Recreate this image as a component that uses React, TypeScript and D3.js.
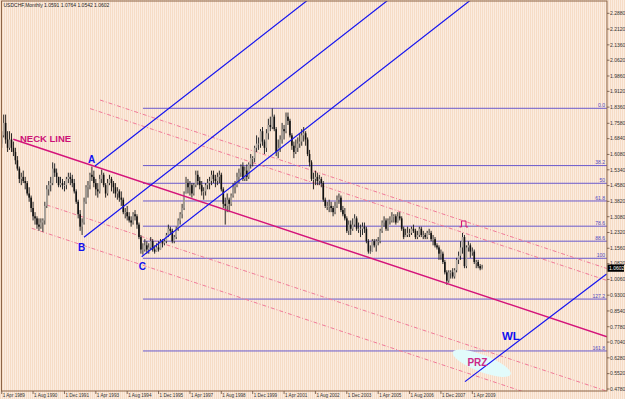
import React from 'react';
import * as d3 from 'd3';

const W = 625;
const H = 399;
const PLOT = { left: 1.5, right: 607, top: 1, bottom: 391 };

// Monthly USDCHF bars, Apr 1989 .. Sep 2009
const FIRST_OPEN = 1.66;
const HIGH = [
  1.72,1.80,1.80,1.72,1.72,1.71,1.67,1.64,1.60,
  1.55,1.52,1.53,1.50,1.48,1.45,1.41,1.38,1.33,1.31,1.30,1.30,
  1.30,1.38,1.46,1.48,1.50,1.57,1.565,1.54,1.50,1.50,1.49,1.48,
  1.50,1.52,1.52,1.51,1.49,1.44,1.39,1.34,1.30,1.40,1.46,1.48,
  1.52,1.55,1.53,1.49,1.47,1.51,1.535,1.52,1.47,1.49,1.51,1.50,
  1.48,1.47,1.45,1.44,1.43,1.40,1.35,1.36,1.33,1.31,1.33,1.34,
  1.32,1.28,1.22,1.18,1.20,1.19,1.18,1.21,1.20,1.17,1.18,1.19,
  1.20,1.20,1.20,1.23,1.27,1.26,1.25,1.22,1.26,1.30,1.33,1.37,
  1.43,1.50,1.49,1.48,1.47,1.47,1.53,1.53,1.50,1.48,1.45,1.47,
  1.49,1.50,1.53,1.53,1.51,1.52,1.53,1.52,1.45,1.40,1.42,1.40,
  1.42,1.47,1.48,1.52,1.54,1.56,1.57,1.55,1.56,1.57,1.61,1.60,
  1.65,1.70,1.69,1.73,1.74,1.68,1.73,1.78,1.79,1.83,1.80,1.74,
  1.68,1.70,1.76,1.75,1.81,1.81,1.78,1.71,1.67,1.68,1.69,1.71,
  1.73,1.74,1.72,1.69,1.63,1.58,1.52,1.53,1.52,1.51,1.50,1.48,
  1.40,1.38,1.39,1.38,1.36,1.38,1.41,1.42,1.41,1.36,1.35,1.31,
  1.29,1.29,1.30,1.32,1.31,1.28,1.27,1.28,1.28,1.26,1.20,1.17,
  1.20,1.20,1.20,1.21,1.25,1.29,1.31,1.30,1.30,1.31,1.33,1.32,
  1.32,1.33,1.33,1.31,1.26,1.25,1.26,1.25,1.26,1.27,1.25,1.24,
  1.26,1.26,1.24,1.23,1.24,1.25,1.24,1.22,1.21,1.18,1.17,1.15,
  1.14,1.10,1.05,1.05,1.05,1.06,1.06,1.11,1.14,1.19,1.23,1.22,
  1.17,1.19,1.18,1.16,1.15,1.10,1.10,1.08,1.0764,
];
const LOW = [
  1.64,1.69,1.66,1.62,1.63,1.62,1.60,1.56,1.53,
  1.47,1.46,1.47,1.44,1.41,1.38,1.33,1.29,1.27,1.25,1.24,1.25,
  1.235,1.27,1.35,1.41,1.43,1.46,1.50,1.47,1.45,1.45,1.44,1.43,
  1.44,1.47,1.46,1.45,1.42,1.37,1.30,1.24,1.22,1.27,1.37,1.40,
  1.44,1.48,1.45,1.41,1.40,1.42,1.47,1.45,1.40,1.41,1.46,1.43,
  1.42,1.40,1.39,1.38,1.36,1.32,1.30,1.29,1.28,1.26,1.27,1.29,
  1.25,1.20,1.13,1.125,1.14,1.13,1.13,1.15,1.14,1.13,1.14,1.14,
  1.15,1.16,1.17,1.18,1.21,1.22,1.18,1.18,1.20,1.24,1.27,1.30,
  1.34,1.42,1.42,1.41,1.40,1.41,1.45,1.46,1.44,1.41,1.39,1.41,
  1.44,1.44,1.46,1.47,1.45,1.46,1.47,1.43,1.35,1.27,1.33,1.33,
  1.36,1.40,1.42,1.45,1.47,1.50,1.48,1.48,1.48,1.49,1.54,1.55,
  1.57,1.62,1.63,1.64,1.65,1.61,1.62,1.68,1.72,1.73,1.72,1.60,
  1.59,1.62,1.66,1.68,1.71,1.75,1.69,1.63,1.59,1.61,1.62,1.64,
  1.65,1.67,1.65,1.60,1.55,1.48,1.44,1.46,1.46,1.46,1.45,1.38,
  1.35,1.34,1.33,1.33,1.31,1.32,1.35,1.37,1.33,1.31,1.29,1.23,
  1.22,1.22,1.24,1.26,1.24,1.23,1.21,1.22,1.23,1.18,1.13,1.13,
  1.14,1.16,1.14,1.17,1.18,1.23,1.26,1.24,1.24,1.27,1.28,1.28,
  1.27,1.28,1.29,1.24,1.20,1.21,1.21,1.21,1.22,1.23,1.20,1.20,
  1.21,1.21,1.20,1.20,1.20,1.22,1.19,1.17,1.16,1.15,1.10,1.10,
  1.08,1.03,0.98,0.99,1.01,1.01,1.01,1.04,1.08,1.10,1.13,1.06,
  1.06,1.14,1.11,1.12,1.08,1.06,1.06,1.05,1.0542,
];
const CLOSE = [
  1.70,1.76,1.68,1.64,1.68,1.64,1.62,1.58,1.54,
  1.49,1.50,1.48,1.47,1.42,1.40,1.35,1.31,1.30,1.27,1.26,1.28,
  1.29,1.36,1.44,1.46,1.47,1.54,1.52,1.50,1.46,1.47,1.46,1.46,
  1.49,1.50,1.49,1.47,1.43,1.38,1.32,1.26,1.28,1.38,1.45,1.46,
  1.51,1.50,1.47,1.44,1.43,1.49,1.51,1.46,1.42,1.47,1.49,1.47,
  1.45,1.42,1.43,1.40,1.39,1.33,1.33,1.31,1.29,1.28,1.32,1.31,
  1.27,1.21,1.15,1.15,1.17,1.15,1.16,1.19,1.15,1.14,1.16,1.15,
  1.19,1.18,1.19,1.22,1.25,1.24,1.19,1.21,1.25,1.29,1.32,1.35,
  1.42,1.47,1.45,1.46,1.42,1.46,1.51,1.48,1.46,1.43,1.43,1.46,
  1.47,1.48,1.51,1.49,1.48,1.50,1.51,1.44,1.37,1.36,1.39,1.37,
  1.41,1.45,1.46,1.50,1.52,1.55,1.49,1.53,1.50,1.56,1.59,1.59,
  1.64,1.66,1.66,1.72,1.67,1.64,1.71,1.75,1.74,1.79,1.73,1.62,
  1.64,1.68,1.73,1.72,1.79,1.77,1.70,1.65,1.62,1.64,1.66,1.67,
  1.70,1.71,1.68,1.61,1.57,1.49,1.49,1.50,1.48,1.49,1.47,1.39,
  1.36,1.36,1.36,1.35,1.33,1.36,1.39,1.40,1.34,1.32,1.30,1.24,
  1.27,1.25,1.27,1.30,1.25,1.25,1.25,1.26,1.25,1.19,1.14,1.14,
  1.19,1.17,1.19,1.19,1.24,1.28,1.29,1.25,1.29,1.29,1.31,1.31,
  1.28,1.31,1.30,1.25,1.21,1.22,1.23,1.23,1.25,1.24,1.21,1.22,
  1.25,1.22,1.22,1.21,1.23,1.23,1.20,1.20,1.17,1.16,1.13,1.13,
  1.09,1.04,1.00,1.04,1.04,1.02,1.05,1.10,1.12,1.16,1.21,1.07,
  1.16,1.17,1.14,1.14,1.09,1.09,1.07,1.0591,1.0602,
];

const TITLE = 'USDCHF,Monthly  1.0591 1.0764 1.0542 1.0602';
const X_TICK_LABELS = [
  '1 Apr 1989','1 Aug 1990','1 Dec 1991','1 Apr 1993','1 Aug 1994','1 Dec 1995',
  '1 Apr 1997','1 Aug 1998','1 Dec 1999','1 Apr 2001','1 Aug 2002','1 Dec 2003',
  '1 Apr 2005','1 Aug 2006','1 Dec 2007','1 Apr 2009',
];
const X_TICK_STEP = 16;
const Y_TICK_LABELS = [
  '2.2880','2.2120','2.1360','2.0620','1.9860','1.9120','1.8360','1.7580','1.6840',
  '1.6080','1.5340','1.4580','1.3820','1.3080','1.2320','1.1560','1.0820','1.0060',
  '0.9300','0.8540','0.7780','0.7040','0.6280','0.5520','0.4780',
];
const LAST_PRICE = '1.0602';

const FIB_LEVELS = [0, 38.2, 50, 61.8, 78.6, 88.6, 100, 127.2, 161.8];
const FIB_TEXT = ['0.0', '38.2', '50', '61.8', '78.6', '88.6', '100', '127.2', '161.8'];
const FIB_HIGH = 1.8304;
const FIB_LOW = 1.1078;
const FIB_START = 72.05;

// annotation lines as [monthIndex, price]
const NECK = [[5.9, 1.681], [308.7, 0.730]];
const FORK = [
  [[47.58, 1.5525], [160, 2.3808]],
  [[41.97, 1.209], [200, 2.3734]],
  [[71.39, 1.1156], [245, 2.395]],
];
const WL = [[236.27, 0.5135], [308.5, 1.0323]];
const CHANNEL = [
  [[50.13, 1.8704], [308.7, 1.0582]],
  [[45.07, 1.829], [308.7, 1.0009]],
  [[22.95, 1.3646], [308.7, 0.4672]],
  [[15.3, 1.2524], [308.7, 0.3309]],
];
const LABELS = [
  { t: 'NECK LINE', p: [9.33, 1.6657], c: '#cc1177', s: 9.5, a: 'start' },
  { t: 'A', p: [45.9, 1.5655], c: '#1010f0', s: 10, a: 'middle' },
  { t: 'B', p: [40.7, 1.1445], c: '#1010f0', s: 10, a: 'middle' },
  { t: 'C', p: [71.8, 1.0515], c: '#1010f0', s: 10, a: 'middle' },
  { t: 'WL', p: [259.7, 0.7143], c: '#1010f0', s: 11.5, a: 'middle' },
  { t: 'PRZ', p: [242.6, 0.5905], c: '#cc2a88', s: 10, a: 'middle' },
];
const PRZ_CENTER = [244.8, 0.602];
const MARKER = [235.0, 1.2875];

export default function App() {
  const x = d3.scaleLinear().domain([0, 240]).range([1.7, 472.3]);
  const y = d3.scaleLinear().domain([0.478, 2.288]).range([389, 13.3]);
  const line = d3.line<number[]>().x(d => x(d[0])).y(d => y(d[1]));

  const bars = CLOSE.map((c, i) => ({
    i, h: HIGH[i], l: LOW[i], c, o: i === 0 ? FIRST_OPEN : CLOSE[i - 1],
  }));

  const fibY = (r: number) => y(FIB_HIGH - (r / 100) * (FIB_HIGH - FIB_LOW));
  const font = 'Liberation Sans, Arial, sans-serif';
  const pcx = x(PRZ_CENTER[0]);
  const pcy = y(PRZ_CENTER[1]);

  return (
    <svg width={W} height={H} style={{ position: 'absolute', left: 0, top: 0, display: 'block' }}
      fontFamily={font}>
      <defs>
        <pattern id="bg" width="2" height="2" patternUnits="userSpaceOnUse">
          <rect x="0" y="0" width="1" height="2" fill="#f6dcc6" />
          <rect x="1" y="0" width="1" height="2" fill="#fbece0" />
        </pattern>
        <clipPath id="plot">
          <rect x={PLOT.left} y={PLOT.top} width={PLOT.right - PLOT.left} height={PLOT.bottom - PLOT.top} />
        </clipPath>
      </defs>
      <rect x={0} y={0} width={W} height={H} fill="url(#bg)" />

      <g clipPath="url(#plot)">
        {/* fibonacci levels */}
        {FIB_LEVELS.map((r, k) => (
          <g key={'f' + k}>
            <line x1={x(FIB_START)} x2={PLOT.right} y1={fibY(r)} y2={fibY(r)}
              stroke="#6a5acd" strokeWidth={1} />
            <text x={PLOT.right - 2} y={fibY(r) - 1.2} fontSize={5} fill="#5048c0" textAnchor="end">
              {FIB_TEXT[k]}
            </text>
          </g>
        ))}
        {/* channel dashed lines */}
        {CHANNEL.map((seg, k) => (
          <path key={'c' + k} d={line(seg) || ''} fill="none" stroke="#f07a98"
            strokeWidth={1} strokeDasharray="4,2,1,2" />
        ))}
        {/* candles */}
        {bars.map(b => {
          const cx = x(b.i);
          const top = Math.min(y(b.o), y(b.c));
          const hh = Math.max(0.8, Math.abs(y(b.o) - y(b.c)));
          const bull = b.c >= b.o;
          return (
            <g key={'b' + b.i}>
              <line x1={cx} x2={cx} y1={y(b.h)} y2={y(b.l)} stroke="#2a2a2a" strokeWidth={1} />
              <rect x={cx - 0.8} y={top} width={1.6} height={hh}
                fill={bull ? '#a8a098' : '#111'} />
            </g>
          );
        })}
        {/* neck line */}
        <path d={line(NECK) || ''} fill="none" stroke="#d4147a" strokeWidth={1.5} />
        {/* pitchfork parallels */}
        {FORK.map((seg, k) => (
          <path key={'p' + k} d={line(seg) || ''} fill="none" stroke="#1414f0" strokeWidth={1.2} />
        ))}
        {/* PRZ ellipse */}
        <ellipse cx={pcx} cy={pcy} rx={31} ry={8.5}
          transform={`rotate(21 ${pcx} ${pcy})`} fill="#e2fbfb" />
        <path d={line(WL) || ''} fill="none" stroke="#1414f0" strokeWidth={1.2} />
        {/* marker */}
        <path d={`M${x(MARKER[0]) - 3},${y(MARKER[1]) + 6} h2 v-6 h4.5 v6 h2`} fill="none"
          stroke="#d4147a" strokeWidth={1} />
        {LABELS.map((l, k) => (
          <text key={'l' + k} x={x(l.p[0])} y={y(l.p[1])} fontSize={l.s} fontWeight="bold"
            fill={l.c} textAnchor={l.a as any} fontFamily="Liberation Sans, Arial, sans-serif">
            {l.t}
          </text>
        ))}
      </g>

      {/* title */}
      <text x={3.5} y={7} fontSize={5} fill="#222">{TITLE}</text>

      {/* frame */}
      <rect x={PLOT.left} y={PLOT.top} width={PLOT.right - PLOT.left} height={PLOT.bottom - PLOT.top}
        fill="none" stroke="#8c6446" strokeWidth={1} />

      {/* y axis */}
      {Y_TICK_LABELS.map((t, k) => {
        const yy = y(parseFloat(t));
        return (
          <g key={'y' + k}>
            <line x1={PLOT.right} x2={PLOT.right + 2.5} y1={yy} y2={yy} stroke="#6a5040" strokeWidth={0.8} />
            <text x={PLOT.right + 3} y={yy + 1.8} fontSize={5} fill="#333">{t}</text>
          </g>
        );
      })}
      <rect x={PLOT.right + 0.5} y={y(parseFloat(LAST_PRICE)) - 3.6} width={16.5} height={7.2} fill="#000" />
      <text x={PLOT.right + 2} y={y(parseFloat(LAST_PRICE)) + 1.8} fontSize={5} fill="#fff">{LAST_PRICE}</text>

      {/* x axis */}
      {X_TICK_LABELS.map((t, k) => {
        const xx = x(k * X_TICK_STEP);
        return (
          <g key={'x' + k}>
            <line x1={xx} x2={xx} y1={PLOT.bottom} y2={PLOT.bottom + 3} stroke="#6a5040" strokeWidth={0.8} />
            <text x={xx + 1} y={396.8} fontSize={4.6} fill="#333">{t}</text>
          </g>
        );
      })}
    </svg>
  );
}
